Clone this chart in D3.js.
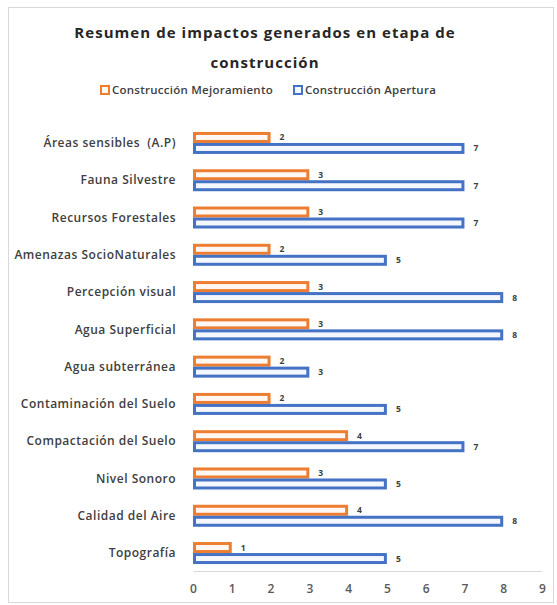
<!DOCTYPE html>
<html>
<head>
<meta charset="utf-8">
<script src="https://cdn.jsdelivr.net/npm/d3@7"></script>
<style>
  html, body { margin: 0; padding: 0; background: #fff; }
  svg { display: block; }
  text { white-space: pre; }
</style>
</head>
<body>
<div id="chart"></div>
<script>
const categories = [
  "Áreas sensibles  (A.P)", "Fauna Silvestre", "Recursos Forestales",
  "Amenazas SocioNaturales", "Percepción visual", "Agua Superficial",
  "Agua subterránea", "Contaminación del Suelo", "Compactación del Suelo",
  "Nivel Sonoro", "Calidad del Aire", "Topografía"
];
const mejoramiento = [2, 3, 3, 2, 3, 3, 2, 2, 4, 3, 4, 1];
const apertura = [7, 7, 7, 5, 8, 8, 3, 5, 7, 5, 8, 5];
const seriesNames = ["Construcción Mejoramiento", "Construcción Apertura"];
const xTicks = [0, 1, 2, 3, 4, 5, 6, 7, 8, 9];

const W = 557, H = 605;
const colors = { stroke: ["#ED7D31", "#4472C4"], fill: ["#fff8f2", "#f4f7fd"] };
const font = "'Open Sans', 'Liberation Sans', sans-serif";

const svg = d3.select("#chart").append("svg")
  .attr("width", W).attr("height", H)
  .attr("viewBox", `0 0 ${W} ${H}`);

// chart frame
svg.append("rect")
  .attr("x", 8.5).attr("y", 7.5)
  .attr("width", 545).attr("height", 595)
  .attr("fill", "#fff").attr("stroke", "#d9d9d9");

const x = d3.scaleLinear().domain([0, 9]).range([193, 542]);
const y = d3.scaleBand().domain(categories).range([124.5, 571.5])
  .paddingInner(0.41).paddingOuter(0.2);
const y1 = d3.scaleBand().domain([0, 1]).range([0, y.bandwidth()]);

// title
const title = svg.append("text")
  .attr("text-anchor", "middle")
  .attr("font-family", font).attr("font-weight", 700)
  .attr("font-size", 15).attr("letter-spacing", 1.05)
  .attr("fill", "#262626");
title.append("tspan").attr("x", 265).attr("y", 38).text("Resumen de impactos generados en etapa de");
title.append("tspan").attr("x", 265).attr("y", 68).text("construcción");

// legend
const legendX = [100, 293];
const legend = svg.append("g");
seriesNames.forEach((name, i) => {
  const g = legend.append("g").attr("transform", `translate(${legendX[i]},85)`);
  g.append("rect").attr("x", 1).attr("y", 1).attr("width", 8).attr("height", 8)
    .attr("fill", colors.fill[i]).attr("stroke", colors.stroke[i]).attr("stroke-width", 2);
  g.append("text").attr("x", 12).attr("y", 5).attr("dy", "0.35em")
    .attr("font-family", font).attr("font-size", 11.5).attr("font-weight", 600)
    .attr("letter-spacing", 0.25)
    .attr("fill", "#404040").text(name);
});

// axis
const xAxis = svg.append("g")
  .attr("transform", `translate(0,${571})`)
  .call(d3.axisBottom(x).tickValues(xTicks).tickSize(0).tickPadding(13));
xAxis.select(".domain").attr("stroke", "#d9d9d9");
xAxis.selectAll("text")
  .attr("font-family", font).attr("font-size", 12).attr("font-weight", 600)
  .attr("fill", "#595959");

// category labels
svg.append("g").selectAll("text")
  .data(categories)
  .join("text")
  .attr("x", 176)
  .attr("y", d => y(d) + y.bandwidth() / 2)
  .attr("dy", "0.35em")
  .attr("text-anchor", "end")
  .attr("font-family", font).attr("font-size", 12).attr("font-weight", 600)
  .attr("letter-spacing", 0.5)
  .attr("fill", "#404040")
  .text(d => d);

// bars
const rows = categories.map((c, i) => ({ c, vals: [mejoramiento[i], apertura[i]] }));
const groups = svg.append("g").selectAll("g")
  .data(rows)
  .join("g")
  .attr("transform", d => `translate(0,${y(d.c)})`);

groups.selectAll("rect")
  .data(d => d.vals.map((v, s) => ({ v, s })))
  .join("rect")
  .attr("x", x(0) + 1.5)
  .attr("y", d => y1(d.s) + 1.5)
  .attr("width", d => x(d.v) - x(0) - 3)
  .attr("height", y1.bandwidth() - 3)
  .attr("fill", d => colors.fill[d.s])
  .attr("stroke", d => colors.stroke[d.s])
  .attr("stroke-width", 3);

groups.selectAll("text")
  .data(d => d.vals.map((v, s) => ({ v, s })))
  .join("text")
  .attr("x", d => x(d.v) + 9)
  .attr("y", d => y1(d.s) + y1.bandwidth() / 2)
  .attr("dy", "0.35em")
  .attr("font-family", font).attr("font-size", 8.5).attr("font-weight", 700)
  .attr("fill", "#404040")
  .text(d => d.v);
</script>
</body>
</html>
